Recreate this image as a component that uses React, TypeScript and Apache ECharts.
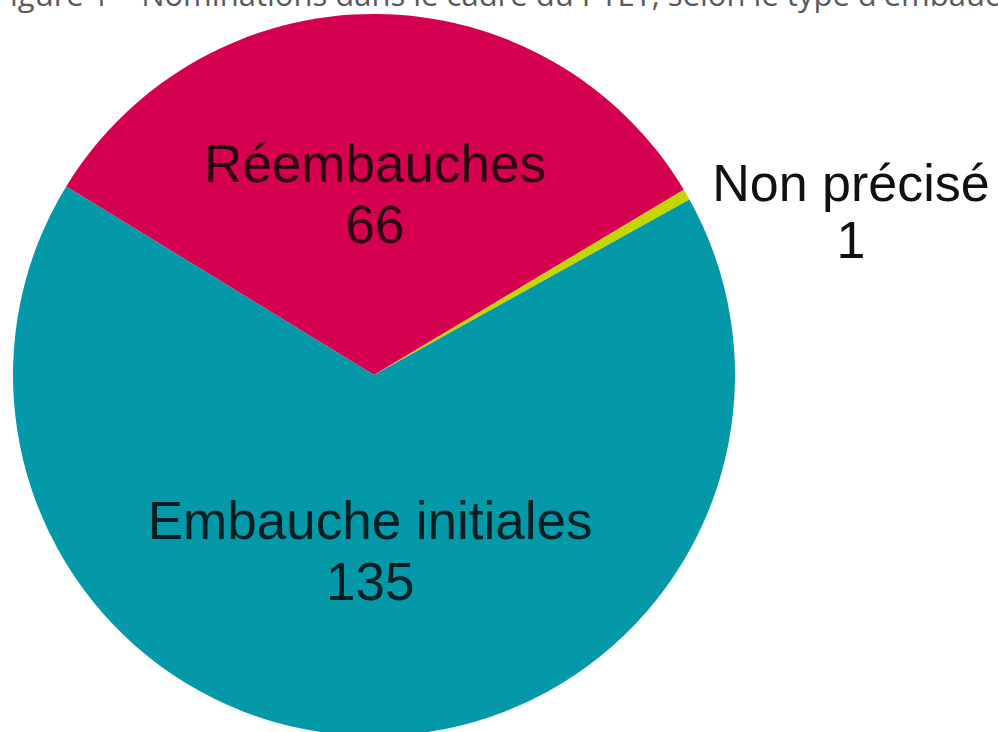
import React, { useEffect, useRef } from "react";
import * as echarts from "echarts";

const categories = ["Réembauches", "Non précisé", "Embauche initiales"];
const values = [66, 1, 135];
const colors = ["#D5004F", "#C4D600", "#0399A8"];
const titleText = "Figure 1 – Nominations dans le cadre du PTET, selon le type d'embauche";

export default function App() {
  const ref = useRef<HTMLDivElement>(null);
  useEffect(() => {
    document.body.style.margin = "0";
    const chart = echarts.init(ref.current!, null, { renderer: "svg" });
    chart.setOption({
      animation: false,
      backgroundColor: "#ffffff",
      graphic: [
        {
          type: "text",
          x: -6,
          y: -6,
          style: {
            text: titleText,
            font: "31px 'Open Sans'",
            fill: "#5a5a5a",
            textAlign: "left",
            textVerticalAlign: "middle",
          },
        },
      ],
      series: [
        {
          type: "pie",
          center: [374, 375],
          radius: 361,
          startAngle: 148.5,
          clockwise: true,
          avoidLabelOverlap: false,
          label: {
            show: true,
            position: "inside",
            formatter: "{b}\n{c}",
            fontFamily: "'Liberation Sans', Arial, sans-serif",
            fontSize: 53,
            lineHeight: 61,
            color: "rgba(0,0,0,0.8)",
          },
          labelLine: { show: false },
          labelLayout: (params: any) => {
            if (params.dataIndex === 1) {
              return { x: 851, y: 211, align: "center", verticalAlign: "middle" };
            }
            if (params.dataIndex === 2) {
              return { dy: -7 };
            }
            return { dy: 2 };
          },
          emphasis: { disabled: true },
          data: categories.map((name, i) => ({
            name,
            value: values[i],
            itemStyle: { color: colors[i] },
            label:
              i === 1
                ? { position: "outside", color: "#111111", fontSize: 52, lineHeight: 57, align: "center" }
                : undefined,
          })),
        },
      ],
    });
    return () => chart.dispose();
  }, []);
  return <div ref={ref} style={{ width: 998, height: 732 }} />;
}
